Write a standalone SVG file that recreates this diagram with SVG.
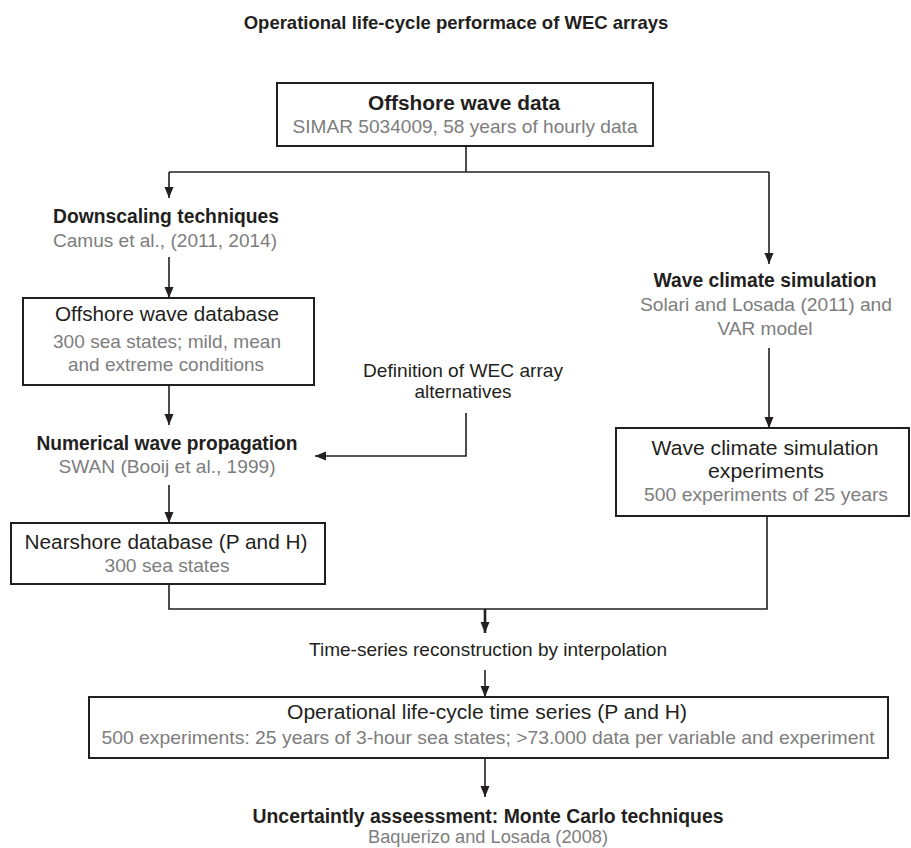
<svg xmlns="http://www.w3.org/2000/svg" width="911" height="848" viewBox="0 0 911 848">
<defs>
<style>
text{font-family:"Liberation Sans",Arial,sans-serif;font-size:19px;fill:#231f20;text-anchor:middle}
.b{font-weight:bold;font-size:20px}
.m{font-size:20.5px}
.g{fill:#7d7d7d}
.box{fill:#fff;stroke:#231f20;stroke-width:2}
.ln{fill:none;stroke:#231f20;stroke-width:1.6}
.thk{stroke-width:2.6}
</style>
<marker id="ah" markerUnits="userSpaceOnUse" markerWidth="12" markerHeight="12" viewBox="0 0 12 12" refX="11" refY="6" orient="auto">
<path d="M0,1.5 L11,6 L0,10.5 Z" fill="#231f20"/>
</marker>
</defs>
<rect width="911" height="848" fill="#fff"/>
<text class="b" x="456" y="29" style="font-size:18.5px">Operational life-cycle performace of WEC arrays</text>

<g id="connectors">
<polyline class="ln" points="466,146 466,172"/>
<polyline class="ln" points="169,172 769,172"/>
<polyline class="ln" points="169,172 169,198" marker-end="url(#ah)"/>
<polyline class="ln" points="769,172 769,264" marker-end="url(#ah)"/>
<polyline class="ln" points="169,257 169,298" marker-end="url(#ah)"/>
<polyline class="ln" points="169,385 169,425" marker-end="url(#ah)"/>
<polyline class="ln" points="466,413 466,456 315,456" marker-end="url(#ah)"/>
<polyline class="ln" points="169,485 169,523" marker-end="url(#ah)"/>
<polyline class="ln" points="769,348 769,428" marker-end="url(#ah)"/>
<polyline class="ln" points="169,584 169,609 767,609 767,516"/>
<polyline class="ln thk" points="485,609 485,633" marker-end="url(#ah)"/>
<polyline class="ln" points="485,670 485,697" marker-end="url(#ah)"/>
<polyline class="ln" points="485,758 485,797" marker-end="url(#ah)"/>
</g>

<g id="offshore-wave-data">
<rect class="box" x="277" y="83" width="376" height="63"/>
<text class="b" x="464" y="110" textLength="192" lengthAdjust="spacingAndGlyphs">Offshore wave data</text>
<text class="g" x="465" y="133" textLength="345" lengthAdjust="spacingAndGlyphs">SIMAR 5034009, 58 years of hourly data</text>
</g>

<g id="downscaling">
<text class="b" x="166" y="223" textLength="226" lengthAdjust="spacingAndGlyphs">Downscaling techniques</text>
<text class="g" x="165" y="247" textLength="224" lengthAdjust="spacingAndGlyphs">Camus et al., (2011, 2014)</text>
</g>

<g id="offshore-wave-database">
<rect class="box" x="23" y="298" width="291" height="87"/>
<text class="m" x="167" y="321" textLength="224" lengthAdjust="spacingAndGlyphs">Offshore wave database</text>
<text class="g" x="167" y="348" textLength="228" lengthAdjust="spacingAndGlyphs">300 sea states; mild,  mean</text>
<text class="g" x="166" y="371" textLength="196" lengthAdjust="spacingAndGlyphs">and extreme conditions</text>
</g>

<g id="wec-alternatives">
<text x="463" y="377" textLength="200" lengthAdjust="spacingAndGlyphs">Definition  of WEC  array</text>
<text x="463" y="398" textLength="97" lengthAdjust="spacingAndGlyphs">alternatives</text>
</g>

<g id="numerical-propagation">
<text class="b" x="167" y="450" textLength="261" lengthAdjust="spacingAndGlyphs">Numerical wave propagation</text>
<text class="g" x="167" y="473" textLength="217" lengthAdjust="spacingAndGlyphs">SWAN  (Booij et al., 1999)</text>
</g>

<g id="nearshore-database">
<rect class="box" x="11" y="523" width="314" height="61"/>
<text class="m" x="166" y="549" textLength="283" lengthAdjust="spacingAndGlyphs">Nearshore database (P and H)</text>
<text class="g" x="167" y="572" textLength="125" lengthAdjust="spacingAndGlyphs">300 sea states</text>
</g>

<g id="wave-climate-simulation">
<text class="b" x="765" y="287" textLength="223" lengthAdjust="spacingAndGlyphs">Wave climate simulation</text>
<text class="g" x="766" y="311" textLength="252" lengthAdjust="spacingAndGlyphs">Solari and Losada (2011) and</text>
<text class="g" x="765" y="335" textLength="95" lengthAdjust="spacingAndGlyphs">VAR model</text>
</g>

<g id="wave-climate-experiments">
<rect class="box" x="616" y="428" width="293" height="88"/>
<text class="m" x="765" y="455" textLength="227" lengthAdjust="spacingAndGlyphs">Wave climate simulation</text>
<text class="m" x="766" y="478" textLength="116" lengthAdjust="spacingAndGlyphs">experiments</text>
<text class="g" x="766" y="501" textLength="244" lengthAdjust="spacingAndGlyphs">500 experiments of 25 years</text>
</g>

<g id="time-series-reconstruction">
<text x="488" y="656" textLength="358" lengthAdjust="spacingAndGlyphs">Time-series reconstruction by interpolation</text>
</g>

<g id="life-cycle-time-series">
<rect class="box" x="89" y="697" width="799" height="61"/>
<text class="m" x="487" y="719" textLength="400" lengthAdjust="spacingAndGlyphs">Operational life-cycle time series (P and H)</text>
<text class="g" x="488" y="744" textLength="773" lengthAdjust="spacingAndGlyphs">500 experiments: 25 years of 3-hour sea states; &gt;73.000 data per variable and experiment</text>
</g>

<g id="uncertainty-assessment">
<text class="b" x="488" y="823" textLength="471" lengthAdjust="spacingAndGlyphs">Uncertaintly asseessment: Monte Carlo techniques</text>
<text class="g" x="488" y="843" textLength="240" lengthAdjust="spacingAndGlyphs">Baquerizo and Losada (2008)</text>
</g>
</svg>
